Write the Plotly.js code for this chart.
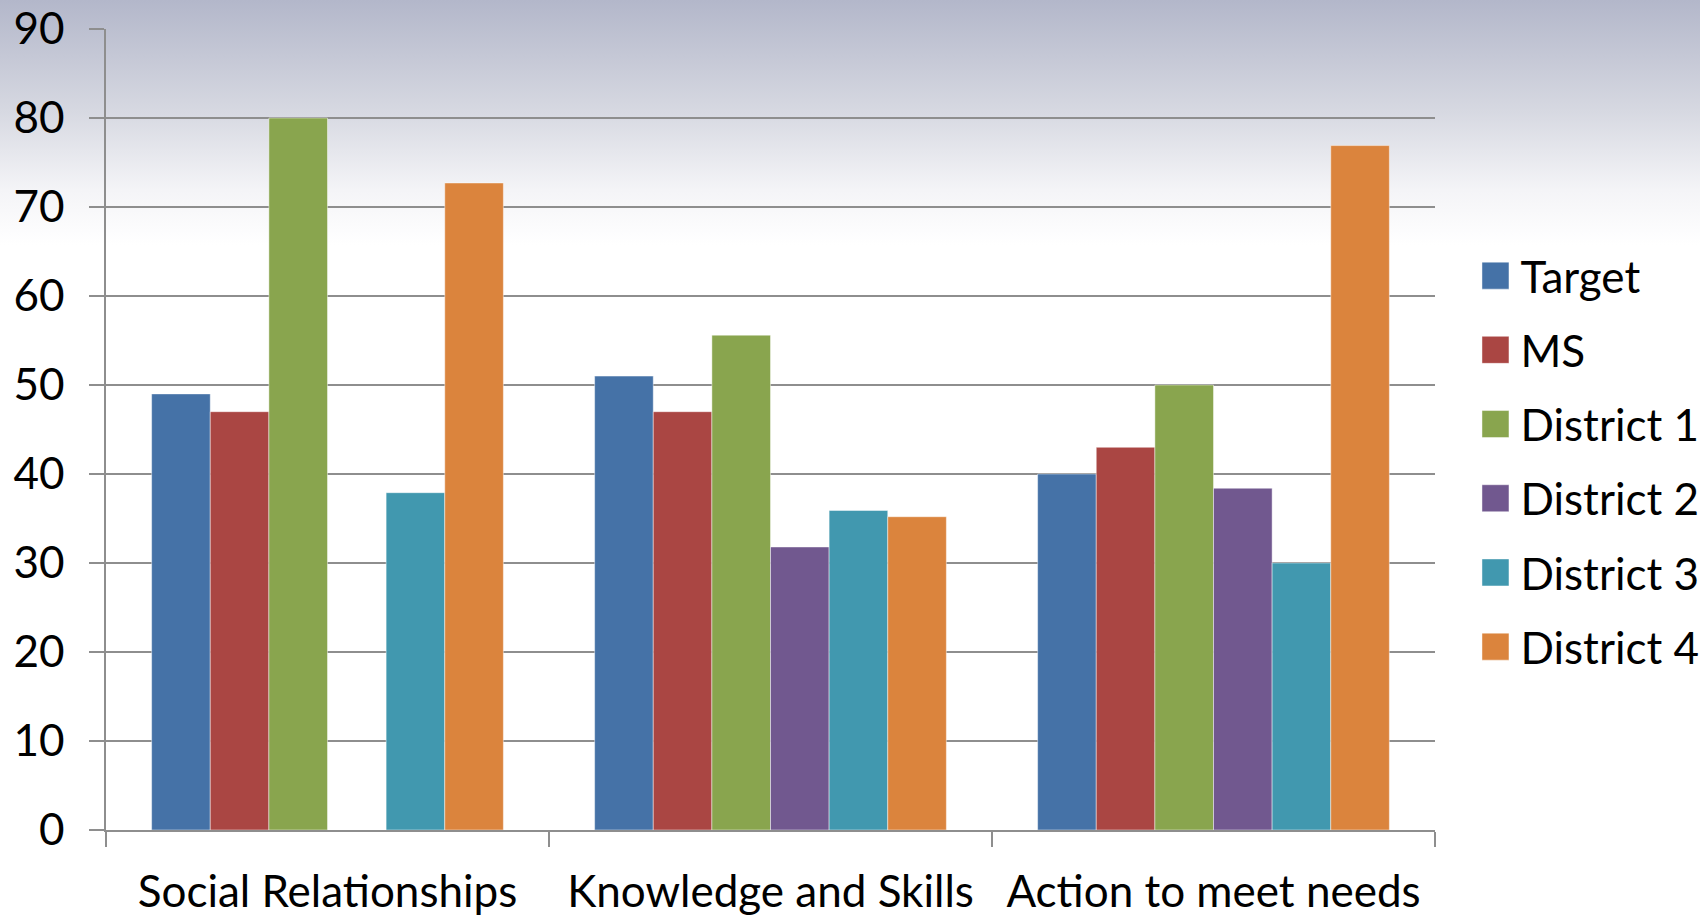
<!DOCTYPE html>
<html>
<head>
<meta charset="utf-8">
<script src="https://cdn.plot.ly/plotly-3.0.1.min.js"></script>
<style>
  html, body { margin: 0; padding: 0; }
  #chart {
    width: 1700px; height: 915px;
    background: linear-gradient(to bottom, #b3b7ca 0px, #d6d8e1 110px, #f4f4f7 190px, #ffffff 245px, #ffffff 100%);
  }
</style>
</head>
<body>
<div id="chart"></div>
<script>
const categories = ["Social Relationships", "Knowledge and Skills", "Action to meet needs"];
const seriesNames = ["Target", "MS", "District 1", "District 2", "District 3", "District 4"];
const target    = [49, 51, 40];
const ms        = [47, 47, 43];
const district1 = [80, 55.6, 50];
const district2 = [null, 31.8, 38.4];
const district3 = [37.9, 35.9, 30];
const district4 = [72.7, 35.2, 76.9];
const colors = ["#4572A7", "#AA4643", "#89A54E", "#71588F", "#4198AF", "#DB843D"];
const yTicks = [0, 10, 20, 30, 40, 50, 60, 70, 80, 90];

const seriesValues = [target, ms, district1, district2, district3, district4];
const FONT = "Lato, 'Open Sans', sans-serif";

const traces = seriesValues.map((vals, i) => ({
  type: "bar",
  name: seriesNames[i],
  x: categories,
  y: vals,
  legendgroup: "g" + i,
  marker: { color: colors[i], line: { color: "rgba(255,255,255,0.45)", width: 1 } },
  hoverinfo: "x+y+name"
}));

const gridCol = "#8e8e8e";
const layout = {
  width: 1700, height: 915,
  margin: { l: 106, r: 264.5, t: 29.3, b: 84.7, autoexpand: false },
  paper_bgcolor: "rgba(0,0,0,0)",
  plot_bgcolor: "rgba(0,0,0,0)",
  barmode: "group",
  bargap: 0.206,
  bargroupgap: 0,
  font: { family: FONT, size: 44, color: "#000000" },
  xaxis: {
    type: "category",
    showgrid: false,
    showline: true, linecolor: gridCol, linewidth: 2,
    ticks: "outside", tickson: "boundaries", ticklen: 15, tickwidth: 1.5, tickcolor: gridCol,
    tickfont: { family: FONT, size: 44, color: "#000" },
    ticklabelstandoff: 22,
    automargin: false,
    fixedrange: true
  },
  yaxis: {
    range: [0, 90],
    tickvals: yTicks,
    ticktext: yTicks.map(String),
    showgrid: true, gridcolor: gridCol, gridwidth: 1.5,
    zeroline: false,
    showline: true, linecolor: gridCol, linewidth: 1.5,
    ticks: "outside", ticklen: 15, tickwidth: 1.5, tickcolor: gridCol,
    tickfont: { family: FONT, size: 44, color: "#000" },
    ticklabelstandoff: 16,
    automargin: false,
    fixedrange: true
  },
  showlegend: true,
  legend: {
    x: 1.0267, xanchor: "left",
    y: 0.46, yanchor: "middle",
    bgcolor: "rgba(0,0,0,0)",
    borderwidth: 0,
    font: { family: FONT, size: 44, color: "#000" },
    itemwidth: 40,
    tracegroupgap: 14,
    traceorder: "grouped"
  }
};

Plotly.newPlot("chart", traces, layout, { displayModeBar: false }).then(() => {
  document.querySelectorAll("#chart .legend .legendpoints path").forEach(p => {
    p.setAttribute("d", "M13.5,13.5H-13.5V-13.5H13.5Z");
  });
});
</script>
</body>
</html>
